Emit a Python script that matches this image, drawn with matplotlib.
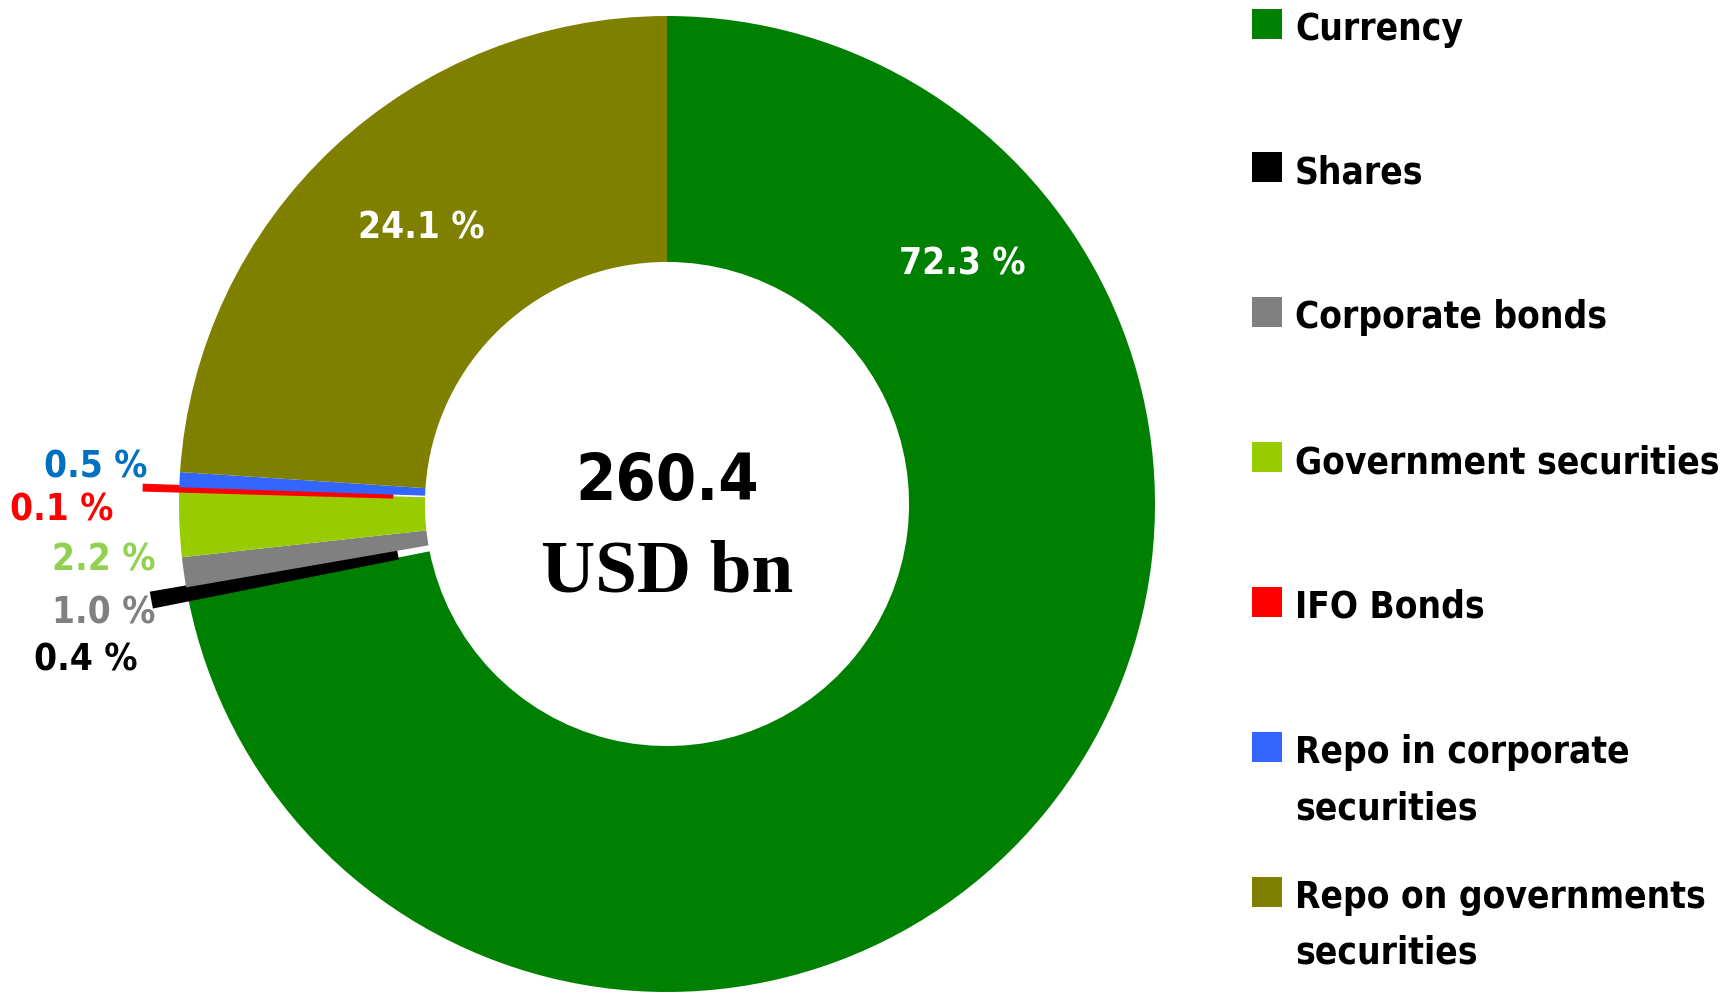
import matplotlib.pyplot as plt
from matplotlib import font_manager as fm
from matplotlib.patches import Rectangle

categories = ["Currency", "Shares", "Corporate bonds", "Government securities",
              "IFO Bonds", "Repo in corporate\nsecurities", "Repo on governments\nsecurities"]
shares_pct = [72.3, 0.4, 1.0, 2.2, 0.1, 0.5, 24.1]
colors = ["#008000", "#000000", "#808080", "#99CC00", "#FF0000", "#3366FF", "#808000"]
total_label = "260.4"
unit_label = "USD bn"

# look for a narrow bold sans (Arial Narrow look); otherwise shrink a normal one
narrow_file = None
for f in fm.fontManager.ttflist:
    nm = (f.name + " " + f.fname).lower()
    if ("narrow" in nm or "condensed" in nm) and "sans" in nm and "serif" not in f.name.lower() \
            and f.style == "normal" and (f.weight in ("bold", 700) or "bold" in f.fname.lower()) \
            and "semi" not in f.fname.lower() and "extra" not in f.fname.lower():
        narrow_file = f.fname
        break
if narrow_file:
    base = dict(fontproperties=fm.FontProperties(fname=narrow_file))
else:
    base = dict(family=["Liberation Sans", "DejaVu Sans"], fontweight="bold")
serif = ["Liberation Serif", "DejaVu Serif"]

W, H = 1725, 993
fig = plt.figure(figsize=(W / 100, H / 100), dpi=100)
renderer = fig.canvas.get_renderer()

# fit width of the longest legend entry to the reference (about 425 px at 32 pt)
probe = fig.text(0, 0, "Government securities", fontsize=32, **base)
wpx = probe.get_window_extent(renderer).width
probe.remove()
k = min(1.0, 425 / wpx)
fs = 32 * k

cx, cy, R = 667, 504, 488
ax = fig.add_axes([(cx - R) / W, (H - cy - R) / H, 2 * R / W, 2 * R / H])

explode = [0.07 if v < 0.45 else 0 for v in shares_pct]
wedges, _ = ax.pie(shares_pct, colors=colors, startangle=90, counterclock=False,
                   radius=1, explode=explode,
                   wedgeprops=dict(width=0.504, linewidth=0))
for w, v, c in zip(wedges, shares_pct, colors):
    if v < 0.45:
        w.set_edgecolor(c)
        w.set_linewidth(3.5)
    w.set_clip_on(False)
ax.set_xlim(-1, 1)
ax.set_ylim(-1, 1)
ax.set_aspect("equal")
ax.axis("off")

def to_data(px, py):
    return (px - cx) / R, (cy - py) / R

# percentage labels
big = [(0, 962, 264), (6, 421, 228)]
for i, px, py in big:
    x, y = to_data(px, py)
    ax.text(x, y, f"{shares_pct[i]:.1f} %", color="white", fontsize=fs,
            ha="center", va="center", **base)

small = [(5, 147, 467, "#0070C0"), (4, 113, 510, "#FF0000"), (3, 155, 560, "#92D050"),
         (2, 155, 613, "#808080"), (1, 137, 660, "#000000")]
for i, px, py, col in small:
    x, y = to_data(px, py)
    ax.text(x, y, f"{shares_pct[i]:.1f} %", color=col, fontsize=fs,
            ha="right", va="center", **base)

# centre total
ax.text(0, to_data(0, 482)[1], total_label, fontsize=56 * k,
        ha="center", va="center", **base)
ax.text(0, to_data(0, 573)[1], unit_label, fontsize=54, fontweight="bold",
        family=serif, ha="center", va="center")

# legend drawn by hand so the two-line entries line up like the original
first_line_y = [24, 167, 312, 457, 602, 747, 892]
line_gap = 56
for lab, col, py in zip(categories, colors, first_line_y):
    fig.patches.append(Rectangle((1252 / W, (H - py - 15) / H), 30 / W, 30 / H,
                                 transform=fig.transFigure, facecolor=col,
                                 edgecolor="none"))
    for j, part in enumerate(lab.split("\n")):
        fig.text(1295 / W, (H - py - 16 - j * line_gap) / H, part, fontsize=fs,
                 ha="left", va="baseline", **base)

fig.savefig("out.png", dpi=100)
